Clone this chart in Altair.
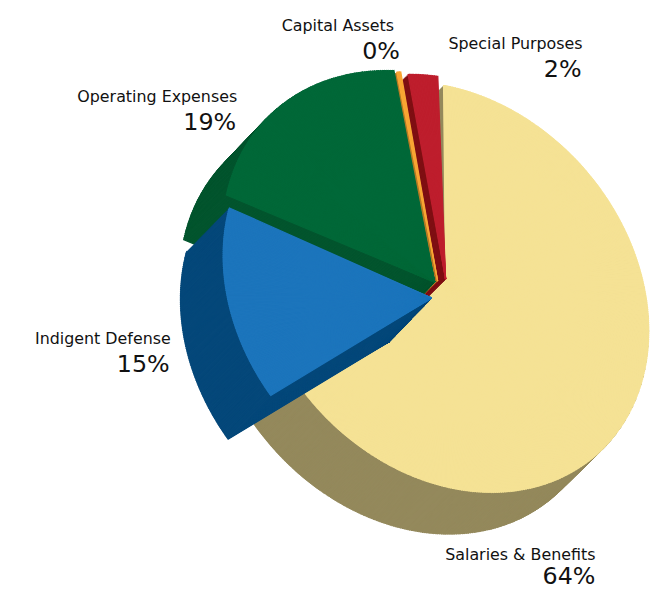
import math
import altair as alt
import numpy as np
import pandas as pd

# Chart content
categories = ["Salaries & Benefits", "Indigent Defense", "Operating Expenses", "Capital Assets", "Special Purposes"]
percent_labels = ["64%", "15%", "19%", "0%", "2%"]
# Drawn start and end angle of each slice (degrees clockwise from 12 o'clock)
angle_start = [-0.6, 238.8, 292.7, 348.9, 349.6]
angle_end = [245.0, 294.0, 349.1, 350.0, 357.8]

# Styling per slice: apex, outline ellipse, extrusion, colours
STYLE = {
    "Salaries & Benefits": dict(apex=(449, 282), c=(453, 287), a=225, b=181, phi=49, off=(-43, 42), top="#F5E295", side="#94895C"),
    "Special Purposes": dict(apex=(449, 279), c=(456, 288), a=234, b=189, phi=49, off=(-43, 43), top="#BE1E2D", side="#7F0F13"),
    "Capital Assets": dict(apex=(441, 281), c=(456, 288), a=237, b=191, phi=49, off=(-43, 43), top="#F9A533", side="#B57A25"),
    "Operating Expenses": dict(apex=(438, 282), c=(444, 289), a=246, b=192, phi=45, off=(-43, 45), top="#006838", side="#03552E"),
    "Indigent Defense": dict(apex=(435, 298), c=(436, 298), a=232, b=189, phi=45, off=(-43, 44), top="#1C75BC", side="#05487A"),
}
DRAW_ORDER = ["Salaries & Benefits", "Special Purposes", "Capital Assets", "Operating Expenses", "Indigent Defense"]
LABELS = {
    "Capital Assets": (397, 29, 403, 57),
    "Special Purposes": (587, 47, 586, 75),
    "Operating Expenses": (239, 100, 238, 129),
    "Indigent Defense": (172, 344, 171, 373),
    "Salaries & Benefits": (600, 562, 600, 586),
}
W, H = 644, 579
OX, OY = 8, 8  # picture position of the chart's origin


def reach(s, deg):
    """Distance from the slice apex to its outline along a direction."""
    t = math.radians(deg)
    phi = math.radians(s["phi"])
    dx, dy = math.sin(t), -math.cos(t)
    px, py = s["apex"][0] - s["c"][0], s["apex"][1] - s["c"][1]
    ux, uy = math.cos(phi), math.sin(phi)
    vx, vy = uy, -ux
    d1, d2 = (dx * ux + dy * uy) / s["a"], (dx * vx + dy * vy) / s["b"]
    p1, p2 = (px * ux + py * uy) / s["a"], (px * vx + py * vy) / s["b"]
    A, B, C = d1 * d1 + d2 * d2, 2 * (d1 * p1 + d2 * p2), p1 * p1 + p2 * p2 - 1
    return (-B + math.sqrt(B * B - 4 * A * C)) / (2 * A)


def sectors(s, a0, a1, step, shift, colour):
    n = max(1, int(math.ceil((a1 - a0) / step)))
    edges = np.linspace(a0, a1, n + 1)
    x = round(s["apex"][0] + shift[0] - OX, 1)
    y = round(s["apex"][1] + shift[1] - OY, 1)
    return [
        dict(x=x, y=y,
             t0=round(math.radians(e0), 4), t1=round(math.radians(e1), 4),
             r=round(reach(s, (e0 + e1) / 2) - 0.5, 2), c=colour)
        for e0, e1 in zip(edges[:-1], edges[1:])
    ]


rows = []
for name in DRAW_ORDER:
    i = categories.index(name)
    s = STYLE[name]
    a0, a1 = angle_start[i], angle_end[i]
    ox, oy = s["off"]
    steps = 43
    rows += sectors(s, a0, a1, 0.5, (ox, oy), s["side"])
    for k in range(steps - 1, 0, -1):
        rows += sectors(s, a0, a1, 2.0, (ox * k / steps, oy * k / steps), s["side"])
    rows += sectors(s, a0, a1, 0.5, (0, 0), s["top"])
df = pd.DataFrame(rows)

pie = alt.Chart(df).mark_arc(strokeWidth=1.2).encode(
    x=alt.X("x:Q", scale=alt.Scale(domain=[0, W], range=[0, W]), axis=None),
    y=alt.Y("y:Q", scale=alt.Scale(domain=[0, H], range=[0, H]), axis=None),
    theta=alt.Theta("t0:Q", scale=None, stack=None),
    theta2=alt.Theta2("t1:Q"),
    radius=alt.Radius("r:Q", scale=None),
    color=alt.Color("c:N", scale=None),
    stroke=alt.Stroke("c:N", scale=None),
)

layers = [pie]
for name, pct in zip(categories, percent_labels):
    nx, ny, px, py = LABELS[name]
    layers.append(
        alt.Chart(pd.DataFrame({"t": [name]})).mark_text(
            font="DejaVu Sans", fontSize=16, align="right", baseline="alphabetic", color="#111111"
        ).encode(x=alt.value(nx - OX), y=alt.value(ny - OY), text="t:N")
    )
    layers.append(
        alt.Chart(pd.DataFrame({"t": [pct]})).mark_text(
            font="DejaVu Sans", fontSize=24, align="right", baseline="alphabetic", color="#111111"
        ).encode(x=alt.value(px - OX), y=alt.value(py - OY), text="t:N")
    )

chart = alt.layer(*layers).properties(width=W, height=H, padding=0, background="white").configure_view(stroke=None)
chart.save("out.html", embed_options={"renderer": "svg", "actions": False})
